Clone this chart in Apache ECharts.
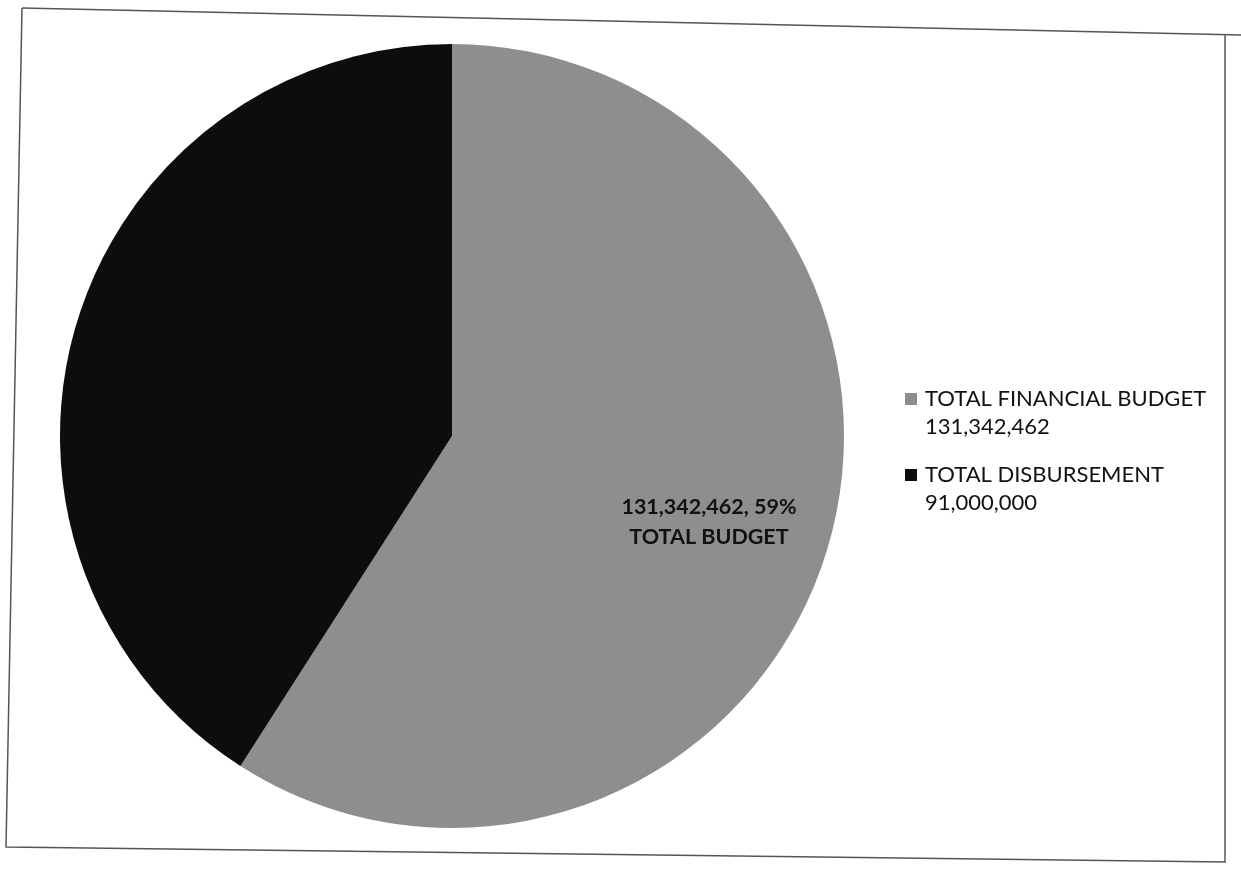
<!DOCTYPE html>
<html><head><meta charset="utf-8">
<script src="https://cdn.jsdelivr.net/npm/echarts@6/dist/echarts.min.js"></script>
<style>html,body{margin:0;padding:0;background:#fff}#c{width:1241px;height:869px}</style>
</head><body><div id="c"></div>
<script>
const categories = ['TOTAL FINANCIAL BUDGET', 'TOTAL DISBURSEMENT'];
const values = [131342462, 91000000];
const labelNames = ['TOTAL BUDGET', 'TOTAL DISBURSEMENT'];
const colors = ['#8e8e8e', '#0d0d0d'];

const fmt = v => v.toLocaleString('en-US');
const total = values.reduce((a, b) => a + b, 0);

const chart = echarts.init(document.getElementById('c'), null, {renderer: 'canvas'});
chart.setOption({
  backgroundColor: '#fff',
  animation: false,
  graphic: [{
    type: 'polyline',
    shape: {points: [[22, 8], [1241, 35]]},
    style: {stroke: '#555', lineWidth: 1.5, fill: null}
  }, {
    type: 'polyline',
    shape: {points: [[22, 8], [6, 847], [1225, 862], [1225, 35]]},
    style: {stroke: '#555', lineWidth: 1.5, fill: null}
  }],
  legend: {
    orient: 'vertical',
    left: 905,
    top: 357,
    padding: 0,
    icon: 'rect',
    itemWidth: 12,
    itemHeight: 12,
    itemGap: -8,
    data: categories,
    formatter: name => '\n' + name + '\n' + fmt(values[categories.indexOf(name)]),
    textStyle: {
      fontFamily: 'Lato, "Open Sans", sans-serif',
      fontSize: 22,
      color: '#111',
      lineHeight: 28,
      padding: [0, 0, 0, 3]
    }
  },
  series: [{
    type: 'pie',
    center: [452, 436],
    radius: 392,
    startAngle: 90,
    clockwise: true,
    data: categories.map((c, i) => ({
      name: c,
      value: values[i],
      itemStyle: {color: colors[i]},
      label: {show: i === 0}
    })),
    label: {
      position: 'inner',
      fontFamily: 'Lato, "Open Sans", sans-serif',
      fontWeight: 'bold',
      fontSize: 21.5,
      color: '#111',
      lineHeight: 30,
      formatter: p => fmt(values[p.dataIndex]) + ', ' + Math.round(values[p.dataIndex] / total * 100) + '%\n' + labelNames[p.dataIndex]
    },
    labelLayout: {dx: 66, dy: 30},
    labelLine: {show: false},
    itemStyle: {borderWidth: 0}
  }]
});
</script></body></html>
